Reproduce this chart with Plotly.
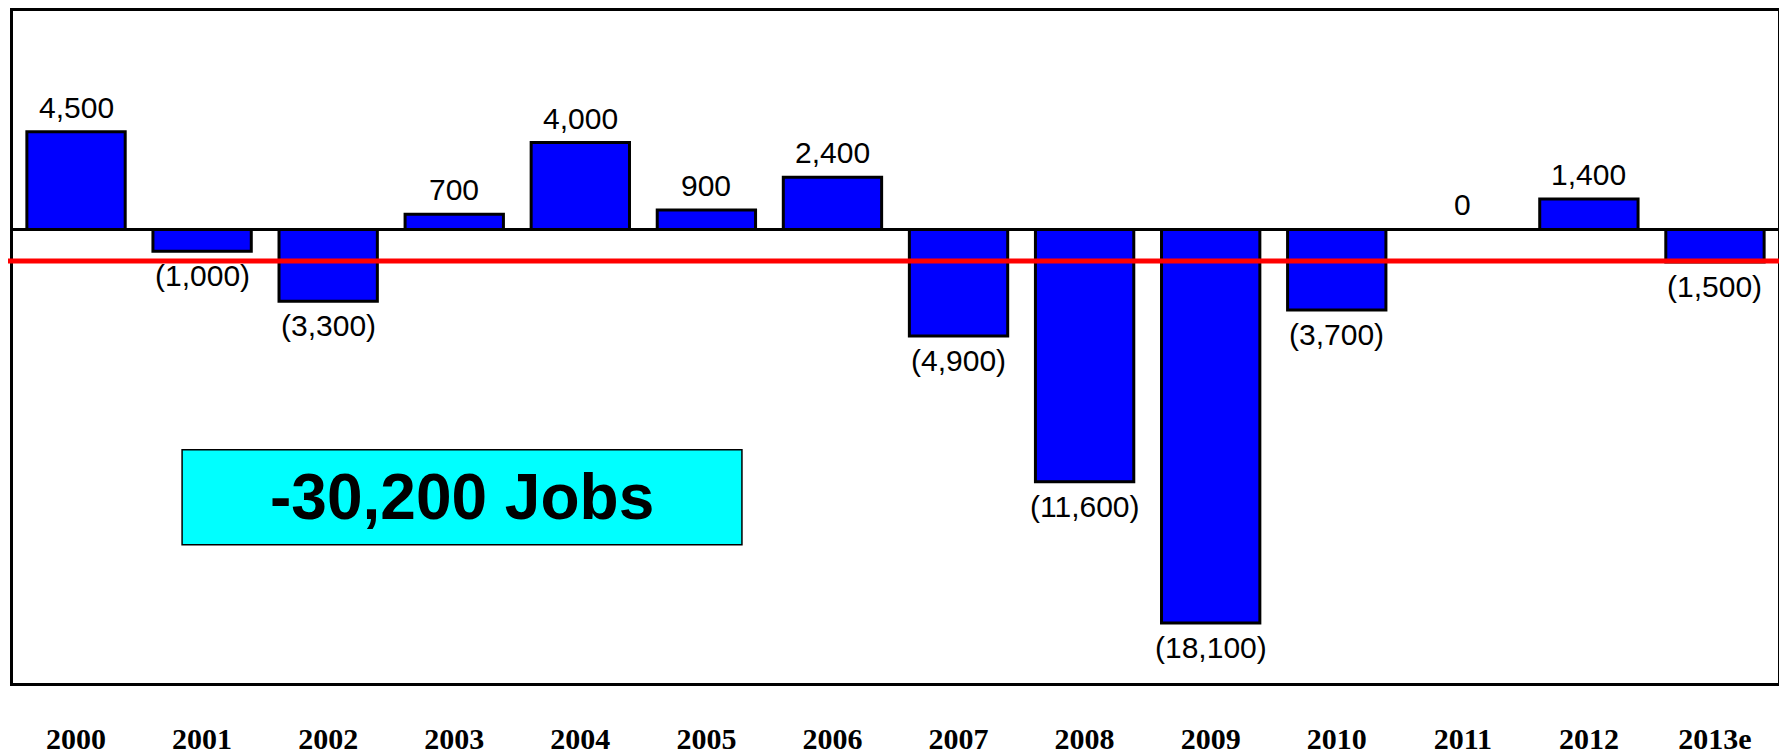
import plotly.graph_objects as go

years = ["2000", "2001", "2002", "2003", "2004", "2005", "2006",
         "2007", "2008", "2009", "2010", "2011", "2012", "2013e"]
job_change = [4500, -1000, -3300, 700, 4000, 900, 2400,
              -4900, -11600, -18100, -3700, 0, 1400, -1500]
total_label = "-30,200 Jobs"
red_line_value = -1450


def fmt(v):
    if v < 0:
        return "({:,})".format(-v)
    return "{:,}".format(v)


fig = go.Figure()
fig.add_trace(go.Bar(
    x=years, y=job_change,
    marker=dict(color="#0000FF", line=dict(color="black", width=3)),
    hoverinfo="x+y",
))

label_font = dict(family="Liberation Sans", size=30, color="black")
annotations = []
for i, v in enumerate(job_change):
    if v >= 0:
        annotations.append(dict(x=i, y=v, xref="x", yref="y", text=fmt(v),
                                showarrow=False, yanchor="bottom", yshift=6,
                                font=label_font))
    else:
        annotations.append(dict(x=i, y=v, xref="x", yref="y", text=fmt(v),
                                showarrow=False, yanchor="top", yshift=-6,
                                font=label_font))

annotations.append(dict(x=0.2544, y=0.2765, xref="paper", yref="paper", text="<b>" + total_label + "</b>",
                        showarrow=False, xanchor="center", yanchor="middle",
                        font=dict(family="Liberation Sans", size=64, color="black")))

shapes = [
    dict(type="rect", xref="paper", yref="paper", x0=0.0958, x1=0.413, y0=0.2059, y1=0.347,
         fillcolor="#00FFFF", line=dict(color="black", width=1.5), layer="above"),
    dict(type="line", xref="paper", yref="y", x0=-0.004, x1=1.006, y0=red_line_value, y1=red_line_value,
         line=dict(color="#FF0000", width=5), layer="above"),
]

fig.update_layout(
    width=1779, height=747,
    margin=dict(l=5, r=9, t=0, b=67),
    paper_bgcolor="white", plot_bgcolor="white",
    bargap=0.22,
    showlegend=False,
    annotations=annotations,
    shapes=shapes,
    xaxis=dict(
        type="category", range=[-0.5, len(years) - 0.5],
        showline=True, mirror=True, linecolor="black", linewidth=3,
        showgrid=False, ticks="", ticklabelstandoff=27,
        tickfont=dict(family="Liberation Serif", size=30, color="black", weight="bold"),
    ),
    yaxis=dict(
        range=[-20860, 10050],
        showline=True, mirror=True, linecolor="black", linewidth=3,
        showgrid=False, showticklabels=False, ticks="",
        zeroline=True, zerolinecolor="black", zerolinewidth=3,
    ),
)

fig.write_html("out.html")
